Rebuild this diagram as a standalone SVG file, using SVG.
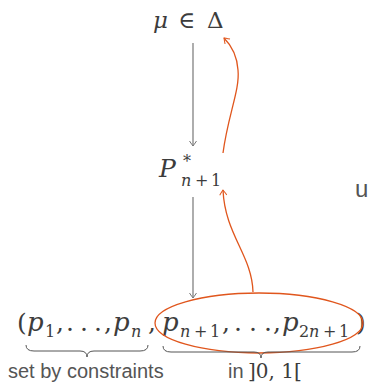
<svg xmlns="http://www.w3.org/2000/svg" width="368" height="384" viewBox="0 0 368 384">
<style>
.m{font-family:"DejaVu Serif","Liberation Serif",serif;fill:#3c3c3c}
.i{font-style:italic}
.s{font-family:"Liberation Sans",Arial,sans-serif;fill:#555}
.g{stroke:#777;stroke-width:1.2;fill:none}
.o{stroke:#e0561d;stroke-width:1.3;fill:none}
.b{stroke:#555;stroke-width:1;fill:none}
</style>
<defs>
<marker id="ag" viewBox="-6 -5 8 10" markerWidth="8" markerHeight="10" refX="0" refY="0" orient="auto" markerUnits="userSpaceOnUse">
<path d="M-5,-3.5 Q-1,-0.8 0,0 Q-1,0.8 -5,3.5" stroke="#777" stroke-width="1" fill="none"/>
</marker>
<marker id="ao" viewBox="-6 -5 8 10" markerWidth="8" markerHeight="10" refX="0" refY="0" orient="auto" markerUnits="userSpaceOnUse">
<path d="M-5,-3.5 Q-1,-0.8 0,0 Q-1,0.8 -5,3.5" stroke="#e0561d" stroke-width="1" fill="none"/>
</marker>
</defs>
<g id="connectors">
<line class="g" x1="193" y1="43" x2="193" y2="146" marker-end="url(#ag)"/>
<line class="g" x1="193" y1="197" x2="193" y2="298" marker-end="url(#ag)"/>
<path class="o" d="M253,292 C252,255 225,235 223,190" marker-end="url(#ao)"/>
<path class="o" d="M223,153 C228,115 240,90 238,70 C237,55 231,45 224,38" marker-end="url(#ao)"/>
</g>
<g id="mu">
<text class="m" font-size="23" y="28"><tspan class="i" x="153">μ</tspan><tspan x="178">∈</tspan><tspan x="207">Δ</tspan></text>
</g>
<g id="pstar">
<text class="m i" font-size="25" x="159" y="177">P</text>
<text class="m" font-size="16" x="183" y="167">*</text>
<text class="m" font-size="16" y="186"><tspan class="i" x="181">n</tspan><tspan x="195">+</tspan><tspan x="211">1</tspan></text>
</g>
<g id="tuple">
<text class="m" font-size="25" y="331">
<tspan x="17">(</tspan><tspan x="56">,</tspan><tspan x="66">.</tspan><tspan x="80">.</tspan><tspan x="94">.</tspan><tspan x="104">,</tspan><tspan x="148">,</tspan><tspan x="222">,</tspan><tspan x="234">.</tspan><tspan x="249">.</tspan><tspan x="264">.</tspan><tspan x="273">,</tspan><tspan x="356">)</tspan>
</text>
<text class="m i" font-size="26" y="331"><tspan x="27">p</tspan><tspan x="113">p</tspan><tspan x="162">p</tspan><tspan x="282">p</tspan></text>
<text class="m" font-size="16" y="337">
<tspan x="45">1</tspan><tspan class="i" x="131">n</tspan><tspan class="i" x="180">n</tspan><tspan x="194">+</tspan><tspan x="210">1</tspan><tspan x="299">2</tspan><tspan class="i" x="309">n</tspan><tspan x="323">+</tspan><tspan x="339">1</tspan>
</text>
</g>
<g id="ellipse">
<ellipse class="o" cx="259" cy="323" rx="104" ry="30"/>
</g>
<g id="braces">
<path class="b" d="M26,345 Q26,351 34,351 L80,351 Q87,351 87,357 Q87,351 94,351 L140,351 Q148,351 148,345"/>
<path class="b" d="M163,346 Q163,352 171,352 L254,352 Q261,352 261,358 Q261,352 268,352 L352,352 Q360,352 360,346"/>
</g>
<g id="labels">
<text class="s" font-size="20" x="8" y="378">set by constraints</text>
<text class="s" font-size="20" x="228" y="378">in</text>
<text class="m" font-size="20" x="248" y="378">]0, 1[</text>
<text class="s" font-size="24" x="355" y="197">u</text>
</g>
</svg>
